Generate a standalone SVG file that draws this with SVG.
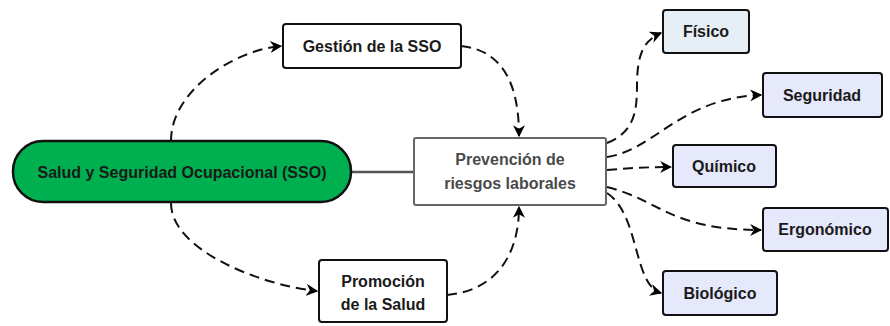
<svg xmlns="http://www.w3.org/2000/svg" width="890" height="326" viewBox="0 0 890 326">
<defs>
<marker id="arr" viewBox="0 0 10 10" refX="9" refY="5" markerWidth="6" markerHeight="6" orient="auto" markerUnits="strokeWidth">
<path d="M0,0 L10,5 L0,10 L3,5 z" fill="#000"/>
</marker>
<style>
text{font-family:"Liberation Sans",Arial,sans-serif;font-weight:bold;font-size:16px;fill:#1a1a1a;text-anchor:middle}
.box{fill:#fff;stroke:#111;stroke-width:2}
.risk{fill:#e6e8fb;stroke:#111;stroke-width:2}
.dash{fill:none;stroke:#111;stroke-width:2;stroke-dasharray:10,6;marker-end:url(#arr)}
</style>
</defs>
<rect width="890" height="326" fill="#fff"/>
<g id="connectors">
<line x1="351" y1="172" x2="414" y2="172" stroke="#555" stroke-width="2.5"/>
<path class="dash" d="M171,141 C171,90 235,50 281,46"/>
<path class="dash" d="M461,46 C500,50 519,80 519,136"/>
<path class="dash" d="M171,203 C171,250 260,285 317,291"/>
<path class="dash" d="M447,295 C500,290 519,250 519,207"/>
<path class="dash" d="M607,143 C635,132 637,110 637,85 C637,52 645,40 661,33"/>
<path class="dash" d="M607,157 C655,150 680,98 761,95"/>
<path class="dash" d="M607,170 C630,168 650,167 671,167"/>
<path class="dash" d="M607,187 C660,200 670,230 761,230"/>
<path class="dash" d="M607,193 C640,215 633,285 661,293"/>
</g>
<g id="sso">
<rect x="13" y="141" width="338" height="61" rx="30" fill="#00b050" stroke="#111" stroke-width="2.5"/>
<text x="182" y="178" font-size="16.5">Salud y Seguridad Ocupacional (SSO)</text>
</g>
<g id="gestion">
<rect class="box" x="283" y="24" width="178" height="44" rx="3"/>
<text x="372" y="52">Gestión de la SSO</text>
</g>
<g id="prevencion">
<rect x="414" y="138" width="192" height="67" rx="2" fill="#fff" stroke="#666" stroke-width="2"/>
<text x="510" y="165" style="fill:#4a4a4a">Prevención de</text>
<text x="510" y="189" style="fill:#4a4a4a">riesgos laborales</text>
</g>
<g id="promocion">
<rect class="box" x="319" y="260" width="128" height="62" rx="3"/>
<text x="383" y="287">Promoción</text>
<text x="383" y="310">de la Salud</text>
</g>
<g id="fisico">
<rect x="663" y="10" width="86" height="43" rx="3" fill="#e6eef6" stroke="#111" stroke-width="2"/>
<text x="706" y="37">Físico</text>
</g>
<g id="seguridad">
<rect class="risk" x="763" y="73" width="119" height="44" rx="3"/>
<text x="822" y="101">Seguridad</text>
</g>
<g id="quimico">
<rect class="risk" x="673" y="145" width="103" height="42" rx="3"/>
<text x="724" y="172">Químico</text>
</g>
<g id="ergonomico">
<rect class="risk" x="763" y="208" width="125" height="43" rx="3"/>
<text x="825" y="235">Ergonómico</text>
</g>
<g id="biologico">
<rect class="risk" x="663" y="271" width="114" height="44" rx="3"/>
<text x="720" y="299">Biológico</text>
</g>
</svg>
